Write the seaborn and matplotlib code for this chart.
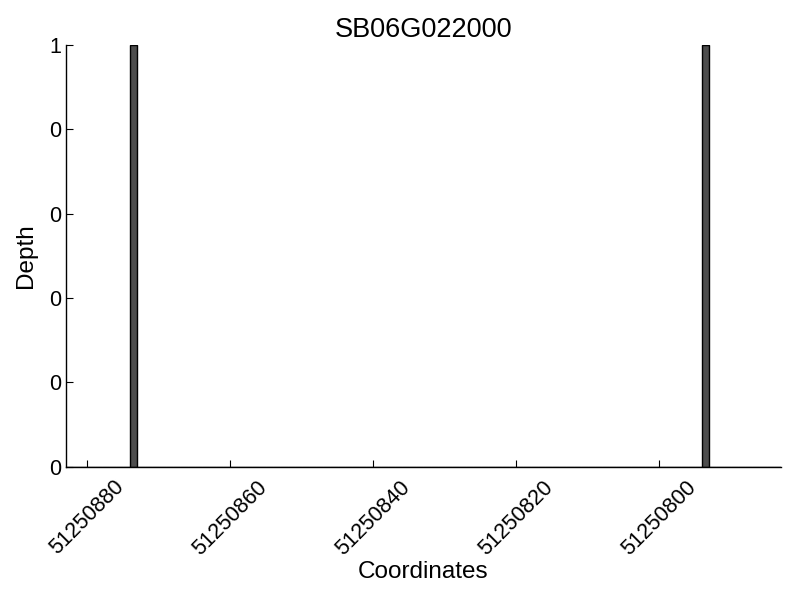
import matplotlib
matplotlib.use('Agg')
import matplotlib.pyplot as plt
import matplotlib.ticker as mticker
import seaborn as sns

# read coverage
gene = "SB06G022000"
positions = [51250873, 51250793]
depths = [1, 1]
x_start, x_end = 51250783, 51250883
xticks = [51250880, 51250860, 51250840, 51250820, 51250800]
yticks = [0, 0.2, 0.4, 0.6, 0.8, 1.0]

sns.set_theme(style="ticks")
plt.rcParams['font.family'] = ['Liberation Sans', 'DejaVu Sans']
plt.rcParams['text.color'] = 'black'
plt.rcParams['axes.labelcolor'] = 'black'

fig = plt.figure(figsize=(8, 6), dpi=100)
ax = fig.add_axes([0.0825, 0.222, 0.8935, 0.703])

sns.histplot(x=positions, weights=depths, binwidth=1, binrange=(x_start, x_end),
             color='#4d4d4d', edgecolor='black', linewidth=1, alpha=1, ax=ax)

ax.set_xlim(x_end, x_start)
ax.set_ylim(0, 1)
ax.set_xticks(xticks)
ax.set_yticks(yticks)
ax.xaxis.set_major_formatter(mticker.FormatStrFormatter('%d'))
ax.yaxis.set_major_formatter(mticker.FormatStrFormatter('%d'))
ax.tick_params(direction='in', length=5, width=0.8, labelsize=15.5, colors='black')
ax.tick_params(axis='x', pad=7)
for lab in ax.get_xticklabels():
    lab.set_rotation(45)
    lab.set_ha('center')
sns.despine(ax=ax)
for s in ['left', 'bottom']:
    ax.spines[s].set_color('black')
    ax.spines[s].set_linewidth(1)

ax.set_title(gene, fontsize=19.5, pad=6)
ax.set_xlabel("Coordinates", fontsize=17.5, labelpad=1)
ax.set_ylabel("Depth", fontsize=17.5, labelpad=9)

fig.savefig("out.png", dpi=100)
plt.close()
